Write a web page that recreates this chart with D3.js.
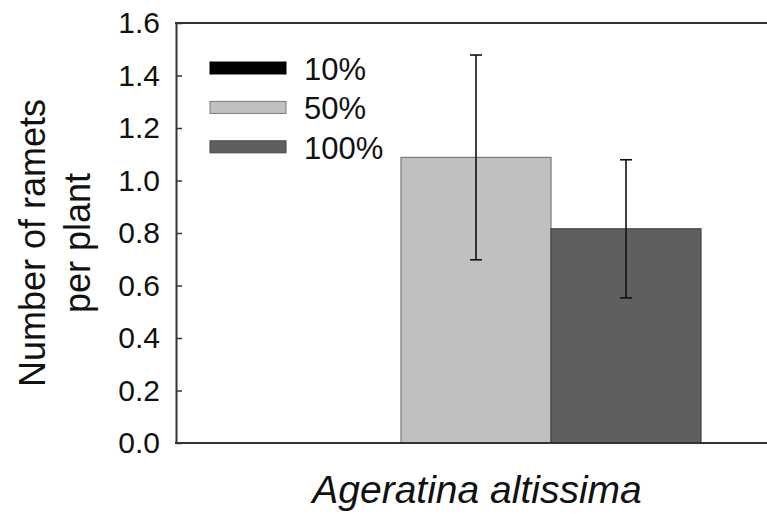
<!DOCTYPE html>
<html>
<head>
<meta charset="utf-8">
<script src="https://cdn.jsdelivr.net/npm/d3@7"></script>
<style>
  body { margin: 0; background: #fff; }
  svg text { font-family: "Liberation Sans", Arial, sans-serif; fill: #111; }
</style>
</head>
<body>
<svg width="767" height="514"></svg>
<script>
// data
var species = ["Ageratina altissima"];
var shades = ["10%", "50%", "100%"];
var means = [0, 1.088, 0.816];
var errs = [0, 0.39, 0.263];
var yTicks = [0, 0.2, 0.4, 0.6, 0.8, 1.0, 1.2, 1.4, 1.6];

var fills = ["#000000", "#c0c0c0", "#5f5f5f"];
var strokes = ["#000000", "#7a7a7a", "#444444"];

var svg = d3.select("svg");
var plotL = 176, plotT = 23, plotB = 443, plotR = 776;

var x0 = d3.scaleBand().domain(species).range([plotL, plotR]).paddingOuter(1/6).paddingInner(0);
var x1 = d3.scaleBand().domain(shades).range([0, x0.bandwidth()]);
var y = d3.scaleLinear().domain([0, 1.6]).range([plotB, plotT]);

var rows = shades.map(function(s, i) { return {shade: s, mean: means[i], err: errs[i], i: i}; });

var g = svg.append("g");

// bars
g.selectAll(".bar")
  .data(rows.filter(function(d) { return d.mean > 0; }))
  .enter().append("rect")
  .attr("class", "bar")
  .attr("x", function(d) { return x0(species[0]) + x1(d.shade); })
  .attr("y", function(d) { return y(d.mean); })
  .attr("width", x1.bandwidth())
  .attr("height", function(d) { return y(0) - y(d.mean); })
  .attr("fill", function(d) { return fills[d.i]; })
  .attr("stroke", function(d) { return strokes[d.i]; })
  .attr("stroke-width", 1.2);

// error bars
var eb = g.selectAll(".err")
  .data(rows.filter(function(d) { return d.err > 0; }))
  .enter().append("g").attr("class", "err")
  .attr("stroke", "#111").attr("stroke-width", 1.6);
function cx(d) { return x0(species[0]) + x1(d.shade) + x1.bandwidth() / 2; }
eb.append("line")
  .attr("x1", cx).attr("x2", cx)
  .attr("y1", function(d) { return y(d.mean + d.err); })
  .attr("y2", function(d) { return y(d.mean - d.err); });
[1, -1].forEach(function(s) {
  eb.append("line")
    .attr("x1", function(d) { return cx(d) - 6; })
    .attr("x2", function(d) { return cx(d) + 6; })
    .attr("y1", function(d) { return y(d.mean + s * d.err); })
    .attr("y2", function(d) { return y(d.mean + s * d.err); });
});

// axes
var yAxis = g.append("g")
  .attr("transform", "translate(" + plotL + ",0)")
  .call(d3.axisLeft(y).tickValues(yTicks).tickFormat(d3.format(".1f"))
    .tickSizeInner(-6).tickSizeOuter(0).tickPadding(16));
yAxis.select(".domain").attr("stroke", "#333").attr("stroke-width", 2);
yAxis.selectAll(".tick line").attr("stroke", "#333").attr("stroke-width", 1.5);
yAxis.selectAll(".tick text").attr("font-size", 30).attr("fill", "#111")
  .attr("font-family", "Liberation Sans, Arial, sans-serif");

g.append("line").attr("x1", plotL - 1).attr("x2", 767).attr("y1", plotT).attr("y2", plotT)
  .attr("stroke", "#333").attr("stroke-width", 2);
g.append("line").attr("x1", plotL - 1).attr("x2", 767).attr("y1", plotB).attr("y2", plotB)
  .attr("stroke", "#333").attr("stroke-width", 2);

// axis titles
g.append("text")
  .attr("x", x0(species[0]) + x0.bandwidth() / 2 + 1)
  .attr("y", 503)
  .attr("text-anchor", "middle")
  .attr("font-size", 39)
  .attr("font-style", "italic")
  .text(species[0]);

var yl = g.append("text")
  .attr("transform", "translate(45,243) rotate(-90)")
  .attr("text-anchor", "middle")
  .attr("font-size", 36);
yl.append("tspan").attr("x", 0).attr("dy", 0).text("Number of ramets");
yl.append("tspan").attr("x", 0).attr("dy", 45).text("per plant");

// legend
var leg = g.selectAll(".leg")
  .data(rows)
  .enter().append("g").attr("class", "leg")
  .attr("transform", function(d, i) { return "translate(210," + (62 + i * 39.4) + ")"; });
leg.append("rect")
  .attr("width", 76).attr("height", 12)
  .attr("fill", function(d) { return fills[d.i]; })
  .attr("stroke", function(d) { return strokes[d.i]; })
  .attr("stroke-width", 1);
leg.append("text")
  .attr("x", 94).attr("y", 18)
  .attr("font-size", 31)
  .text(function(d) { return d.shade; });
</script>
</body>
</html>
